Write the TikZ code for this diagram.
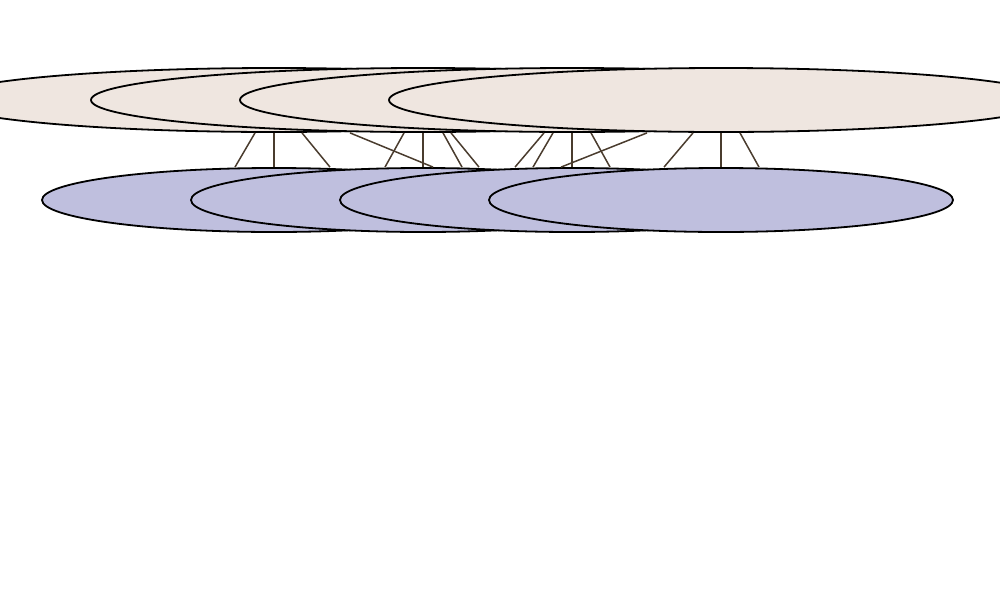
\documentclass[tikz,border=0pt]{standalone}
\usetikzlibrary{shapes.geometric}
\definecolor{topfill}{HTML}{EFE6E0}
\definecolor{botfill}{HTML}{BFBFDE}
\definecolor{edgecol}{HTML}{4A3C2E}
\tikzset{
  topnode/.style={ellipse, draw=black, line width=1.8pt, fill=topfill, minimum width=664pt, minimum height=64pt, inner sep=0pt},
  botnode/.style={ellipse, draw=black, line width=1.8pt, fill=botfill, minimum width=464pt, minimum height=64pt, inner sep=0pt},
  conn/.style={draw=edgecol, line width=1.5pt}
}
\begin{document}
\begin{tikzpicture}[x=1pt,y=-1pt]
\useasboundingbox (0,0) rectangle (1000,600);
% top row
\node[topnode] (A1) at (274,100) {};
\node[topnode] (A2) at (423,100) {};
\node[topnode] (A3) at (572,100) {};
\node[topnode] (A4) at (721,100) {};
% bottom row
\node[botnode] (B1) at (274,200) {};
\node[botnode] (B2) at (423,200) {};
\node[botnode] (B3) at (572,200) {};
\node[botnode] (B4) at (721,200) {};
% connectors
\draw[conn] ([xshift=-19pt]A1.south) -- ([xshift=-39pt]B1.north);
\draw[conn] (A1.south) -- (B1.north);
\draw[conn] ([xshift=28pt]A1.south) -- ([xshift=56pt]B1.north);
\draw[conn] ([xshift=76pt]A1.south) -- ([xshift=10pt]B2.north);
\draw[conn] ([xshift=-19pt]A2.south) -- ([xshift=-38pt]B2.north);
\draw[conn] (A2.south) -- (B2.north);
\draw[conn] ([xshift=20pt]A2.south) -- ([xshift=39pt]B2.north);
\draw[conn] ([xshift=28pt]A2.south) -- ([xshift=56pt]B2.north);
\draw[conn] ([xshift=-28pt]A3.south) -- ([xshift=-57pt]B3.north);
\draw[conn] ([xshift=-19pt]A3.south) -- ([xshift=-39pt]B3.north);
\draw[conn] (A3.south) -- (B3.north);
\draw[conn] ([xshift=19pt]A3.south) -- ([xshift=38pt]B3.north);
\draw[conn] ([xshift=-74pt]A4.south) -- ([xshift=-160pt]B4.north);
\draw[conn] ([xshift=-28pt]A4.south) -- ([xshift=-57pt]B4.north);
\draw[conn] (A4.south) -- (B4.north);
\draw[conn] ([xshift=19pt]A4.south) -- ([xshift=38pt]B4.north);
\end{tikzpicture}
\end{document}
